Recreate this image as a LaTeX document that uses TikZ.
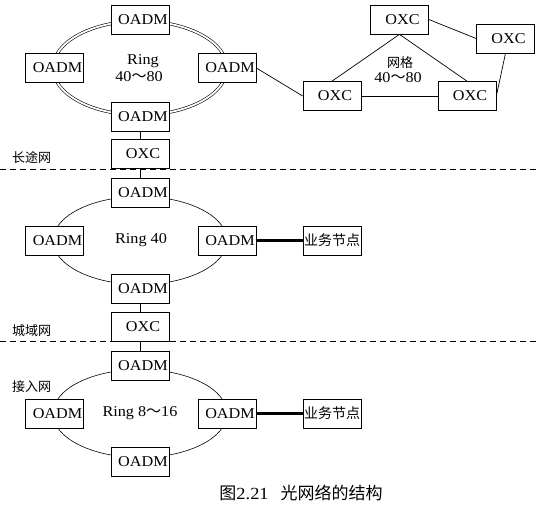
\documentclass[tikz,border=0pt]{standalone}
\usepackage{fontspec}
\setmainfont[FakeStretch=1.08]{Liberation Serif}
\newfontfamily\cjk{Noto Sans CJK SC}
\begin{document}
\begin{tikzpicture}[x=1pt,y=-1pt,
  box/.style={draw, fill=white, line width=0.7pt, minimum width=58pt, minimum height=29pt, inner sep=0pt, font=\fontsize{15}{15}\selectfont, execute at begin node={\hspace{6pt}}},
  cbox/.style={draw, fill=white, line width=0.7pt, minimum width=58pt, minimum height=29pt, inner sep=0pt, font=\fontsize{14}{14}\selectfont\cjk},
  lbl/.style={inner sep=0pt, font=\fontsize{15}{15}\selectfont},
  clbl/.style={inner sep=0pt, font=\fontsize{13}{13}\selectfont\cjk},
  link/.style={draw, line width=0.7pt},
  thick link/.style={draw, line width=2.6pt},
  ring/.style={draw, line width=0.6pt},
  dring/.style={draw, line width=0.6pt, double, double distance=1.8pt},
  sep/.style={draw, line width=0.7pt, dash pattern=on 6pt off 4pt}]
\useasboundingbox (0,0) rectangle (539,509);

% ---------- long-haul ring ----------
\draw[dring] (140,68) ellipse [x radius=87pt, y radius=47pt];
\node[box] (a1) at (140,19.5) {OADM};
\node[box] (a2) at (54.5,68) {OADM};
\node[box] (a3) at (227,68) {OADM};
\node[box] (a4) at (140,116.5) {OADM};
\node[lbl] (ra1) at (143,61) {Ring};
\node[lbl] (ra2) at (139,77) {40{\cjk ～}80};
\node[box] (x1) at (140,154) {OXC};
\path[link] (a4) -- (x1);

% ---------- mesh ----------
\node[box] (m1) at (399.5,19.5) {OXC};
\node[box] (m2) at (505.5,38.5) {OXC};
\node[box] (m3) at (332,96) {OXC};
\node[box] (m4) at (467,96) {OXC};
\node[clbl] (mg1) at (400,63) {网格};
\node[lbl] (mg2) at (398,78) {40{\cjk ～}80};
\path[link] (m1.south) -- (m3.north);
\path[link] (m1.south) -- (m4.north);
\path[link] (m1.east) -- (m2.west);
\path[link] (m2.south) -- (m4.east);
\path[link] (m3.east) -- (m4.west);
\path[link] (a3.east) -- (m3.west);

% ---------- separator 1 ----------
\coordinate (s1a) at (0,169);
\coordinate (s1b) at (539,169);
\path[sep] (s1a) -- (s1b);
\node[clbl, anchor=west] (l1) at (12,157) {长途网};

% ---------- metro ring ----------
\draw[ring] (140,240.5) ellipse [x radius=87pt, y radius=44pt];
\node[box] (b1) at (140,192.5) {OADM};
\node[box] (b2) at (54.5,240.5) {OADM};
\node[box] (b3) at (227,240.5) {OADM};
\node[box] (b4) at (140,288.5) {OADM};
\node[lbl] (rb) at (141,240) {Ring 40};
\node[cbox] (sb) at (332,240.5) {业务节点};
\path[thick link] (b3.east) -- (sb.west);
\path[link] (x1) -- (b1);
\node[box] (x2) at (140,327) {OXC};
\path[link] (b4) -- (x2);

% ---------- separator 2 ----------
\coordinate (s2a) at (0,341);
\coordinate (s2b) at (539,341);
\path[sep] (s2a) -- (s2b);
\node[clbl, anchor=west] (l2) at (12,331) {城域网};

% ---------- access ring ----------
\draw[ring] (140,413.5) ellipse [x radius=87pt, y radius=44pt];
\node[box] (c1) at (140,365.5) {OADM};
\node[box] (c2) at (54.5,413.5) {OADM};
\node[box] (c3) at (227,413.5) {OADM};
\node[box] (c4) at (140,461.5) {OADM};
\node[lbl] (rc) at (140,413) {Ring 8{\cjk ～}16};
\node[cbox] (sc) at (332,413.5) {业务节点};
\path[thick link] (c3.east) -- (sc.west);
\path[link] (x2) -- (c1);
\node[clbl, anchor=west] (l3) at (12,387) {接入网};

% ---------- caption ----------
\node[inner sep=0pt, font=\fontsize{17}{17}\selectfont] (cap) at (301,493) {{\cjk 图}2.21\hspace{0.7em}{\cjk 光网络的结构}};
\end{tikzpicture}
\end{document}
